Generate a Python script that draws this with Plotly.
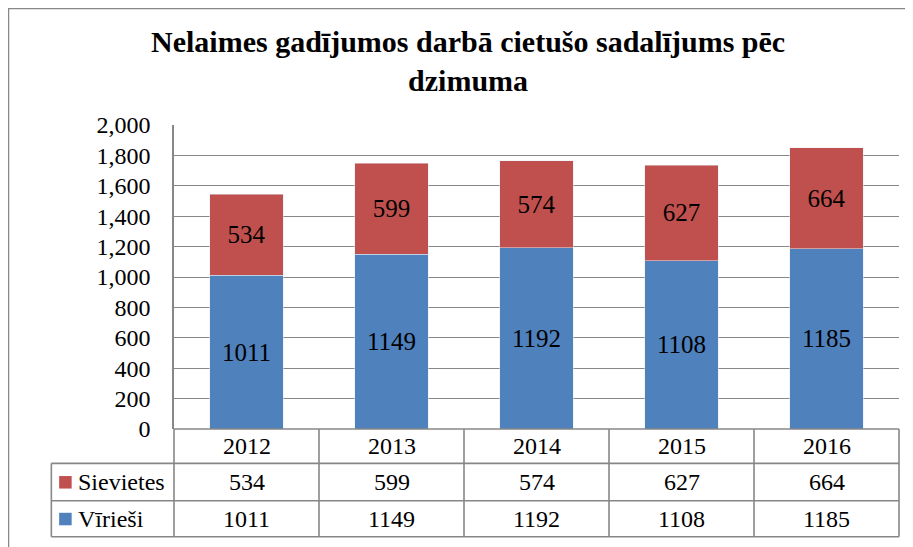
import plotly.graph_objects as go

years = ["2012", "2013", "2014", "2015", "2016"]
sievietes = [534, 599, 574, 627, 664]
virieshi = [1011, 1149, 1192, 1108, 1185]
series_names = ["Sievietes", "Vīrieši"]
title_text = "Nelaimes gadījumos darbā cietušo sadalījums pēc<br>dzimuma"
y_ticks = [0, 200, 400, 600, 800, 1000, 1200, 1400, 1600, 1800, 2000]

RED = "#C0504D"
BLUE = "#4F81BD"
GRID = "#878787"
FONT = "'Liberation Serif', 'Times New Roman', Tinos, 'DejaVu Serif', serif"

W, H = 913, 547
OFF = 8  # page body margin in the screenshot
# plot area in screenshot pixels
SL, SR, ST, SB = 174.3, 899, 125.3, 429
L = SL - OFF
T = ST - OFF
R = W - (SR - OFF)
B = H - (SB - OFF)
PW = W - L - R
PH = H - T - B


def px_x(px):
    return (px - OFF - L) / PW


def px_y(py):
    return (H - B - (py - OFF)) / PH


idx = list(range(len(years)))

fig = go.Figure()
fig.add_trace(go.Bar(
    x=idx, y=virieshi, name=series_names[1], marker_color=BLUE,
    text=[str(v) for v in virieshi], textposition="inside",
    insidetextanchor="middle", textangle=0, constraintext="none",
    textfont=dict(family=FONT, size=25, color="black"),
))
fig.add_trace(go.Bar(
    x=idx, y=sievietes, name=series_names[0], marker_color=RED,
    text=[str(v) for v in sievietes], textposition="inside",
    insidetextanchor="middle", textangle=0, constraintext="none",
    textfont=dict(family=FONT, size=25, color="black"),
))

shapes = []
line = dict(color=GRID, width=1.6)
# outer chart border
shapes.append(dict(type="rect", xref="paper", yref="paper",
                   x0=px_x(OFF + 0.8), x1=px_x(980), y0=px_y(620), y1=px_y(OFF + 0.8),
                   line=line, fillcolor="rgba(0,0,0,0)", layer="below"))

# table geometry (screenshot pixels)
tbl_left = 51.7
row_y = [SB, 463.3, 500.7, 536.7]
col_x = [SL + i * (SR - SL) / len(years) for i in range(len(years) + 1)]

# horizontal lines
shapes.append(dict(type="line", xref="paper", yref="paper",
                   x0=px_x(col_x[0]), x1=px_x(col_x[-1]),
                   y0=px_y(row_y[0]), y1=px_y(row_y[0]), line=line))
for ry in row_y[1:]:
    shapes.append(dict(type="line", xref="paper", yref="paper",
                       x0=px_x(tbl_left), x1=px_x(col_x[-1]),
                       y0=px_y(ry), y1=px_y(ry), line=line))
# vertical lines
for cx in col_x:
    shapes.append(dict(type="line", xref="paper", yref="paper",
                       x0=px_x(cx), x1=px_x(cx),
                       y0=px_y(row_y[0]), y1=px_y(row_y[-1]), line=line))
shapes.append(dict(type="line", xref="paper", yref="paper",
                   x0=px_x(tbl_left), x1=px_x(tbl_left),
                   y0=px_y(row_y[1]), y1=px_y(row_y[-1]), line=line))

# legend keys
for i, col in enumerate([RED, BLUE]):
    cy = (row_y[i + 1] + row_y[i + 2]) / 2
    shapes.append(dict(type="rect", xref="paper", yref="paper",
                       x0=px_x(59.5), x1=px_x(72), y0=px_y(cy + 6.5), y1=px_y(cy - 6),
                       line=dict(width=0), fillcolor=col))

annotations = []
tf = dict(family=FONT, size=24, color="black")
# header years
for i, yr in zip(idx, years):
    annotations.append(dict(x=i, xref="x", yref="paper",
                            y=px_y((row_y[0] + row_y[1]) / 2), text=yr,
                            showarrow=False, font=tf, xanchor="center", yanchor="middle"))
rows = [(series_names[0], sievietes), (series_names[1], virieshi)]
for r, (name, vals) in enumerate(rows):
    cy = px_y((row_y[r + 1] + row_y[r + 2]) / 2)
    annotations.append(dict(x=px_x(76), xref="paper", yref="paper", y=cy, text=name,
                            showarrow=False, font=tf, xanchor="left", yanchor="middle"))
    for i, v in zip(idx, vals):
        annotations.append(dict(x=i, xref="x", yref="paper", y=cy, text=str(v),
                                showarrow=False, font=tf, xanchor="center", yanchor="middle"))

# title
annotations.append(dict(x=px_x(468), xref="paper", y=px_y(61), yref="paper",
                        text=title_text, showarrow=False,
                        font=dict(family=FONT, size=30, color="black", weight="bold"),
                        xanchor="center", yanchor="middle", align="center"))

fig.update_layout(
    width=W, height=H,
    margin=dict(l=L, r=R, t=T, b=B, pad=0),
    paper_bgcolor="white", plot_bgcolor="white",
    barmode="stack", bargap=0.49,
    showlegend=False,
    font=dict(family=FONT, size=24, color="black"),
    xaxis=dict(range=[-0.5, len(years) - 0.5], showticklabels=False, showgrid=False,
               showline=False, zeroline=False, ticks="", fixedrange=True),
    yaxis=dict(range=[0, 2000], tickvals=y_ticks, tickformat=",",
               showgrid=True, gridcolor=GRID, gridwidth=1.4,
               showline=True, linecolor=GRID, linewidth=1.6,
               zeroline=False, ticks="", ticklabelstandoff=17,
               tickfont=dict(family=FONT, size=24, color="black")),
    shapes=shapes,
    annotations=annotations,
)

fig.write_html("out.html")
